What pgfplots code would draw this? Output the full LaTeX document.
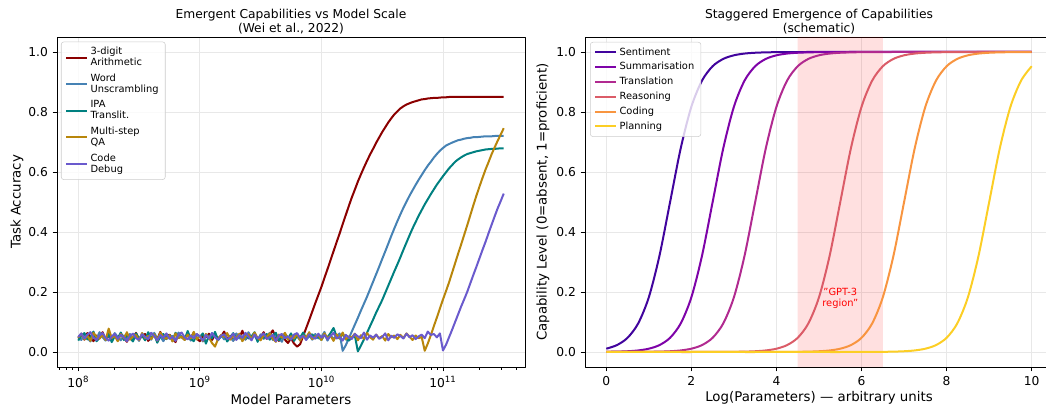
\documentclass[border=0pt]{standalone}
\usepackage{fontspec}
\setmainfont{DejaVu Sans}
\usepackage{pgfplots}
\usepackage{pgfplotstable}
\pgfplotsset{compat=1.18}

\definecolor{arith}{HTML}{8B0000}
\definecolor{word}{HTML}{4682B4}
\definecolor{ipa}{HTML}{008080}
\definecolor{qa}{HTML}{B8860B}
\definecolor{code}{HTML}{6A5ACD}
\definecolor{pA}{HTML}{41049D}
\definecolor{pB}{HTML}{7E03A8}
\definecolor{pC}{HTML}{B12A90}
\definecolor{pD}{HTML}{DB5C68}
\definecolor{pE}{HTML}{F89540}
\definecolor{pF}{HTML}{FCCE25}
\definecolor{gridgray}{RGB}{232,232,232}
\definecolor{legframe}{RGB}{204,204,204}

% log10(params)  arith  word  ipa  qa  code
\pgfplotstableread{
l a w i q c
8.000 0.045 0.052 0.038 0.048 0.050
8.025 0.058 0.040 0.055 0.061 0.062
8.050 0.041 0.061 0.063 0.042 0.045
8.075 0.063 0.047 0.042 0.055 0.058
8.100 0.050 0.035 0.050 0.037 0.066
8.125 0.036 0.058 0.068 0.064 0.048
8.150 0.055 0.044 0.036 0.050 0.040
8.175 0.047 0.066 0.047 0.044 0.055
8.200 0.066 0.049 0.059 0.058 0.063
8.225 0.040 0.038 0.044 0.040 0.047
8.250 0.052 0.057 0.061 0.078 0.038
8.275 0.044 0.043 0.033 0.047 0.052
8.300 0.059 0.063 0.053 0.053 0.060
8.325 0.038 0.050 0.046 0.036 0.044
8.350 0.061 0.039 0.065 0.060 0.057
8.375 0.049 0.055 0.040 0.045 0.049
8.400 0.034 0.046 0.057 0.066 0.036
8.425 0.057 0.060 0.049 0.041 0.054
8.450 0.046 0.042 0.035 0.052 0.061
8.475 0.064 0.053 0.062 0.057 0.046
8.500 0.042 0.037 0.045 0.039 0.041
8.525 0.053 0.062 0.054 0.063 0.059
8.550 0.060 0.048 0.039 0.046 0.050
8.575 0.037 0.056 0.066 0.054 0.043
8.600 0.048 0.041 0.048 0.043 0.064
8.625 0.056 0.064 0.058 0.059 0.053
8.650 0.043 0.045 0.031 0.038 0.039
8.675 0.067 0.051 0.052 0.065 0.056
8.700 0.039 0.036 0.060 0.049 0.047
8.725 0.051 0.059 0.043 0.044 0.062
8.750 0.058 0.047 0.056 0.056 0.044
8.775 0.045 0.054 0.037 0.035 0.051
8.800 0.033 0.040 0.064 0.062 0.037
8.825 0.062 0.065 0.047 0.047 0.058
8.850 0.050 0.049 0.051 0.051 0.065
8.875 0.041 0.043 0.041 0.040 0.049
8.900 0.059 0.058 0.070 0.058 0.042
8.925 0.047 0.038 0.044 0.045 0.055
8.950 0.064 0.061 0.036 0.067 0.046
8.975 0.044 0.046 0.059 0.042 0.060
9.000 0.036 0.052 0.050 0.053 0.052
9.025 0.055 0.035 0.062 0.037 0.038
9.050 0.049 0.057 0.028 0.060 0.057
9.075 0.061 0.044 0.055 0.048 0.045
9.100 0.040 0.063 0.046 0.030 0.063
9.125 0.057 0.050 0.067 0.018 0.050
9.150 0.046 0.039 0.040 0.044 0.041
9.175 0.052 0.056 0.053 0.057 0.054
9.200 0.068 0.042 0.058 0.050 0.059
9.225 0.043 0.060 0.035 0.063 0.043
9.250 0.054 0.048 0.049 0.041 0.048
9.275 0.038 0.037 0.063 0.055 0.061
9.300 0.060 0.062 0.043 0.046 0.040
9.325 0.048 0.045 0.057 0.061 0.056
9.350 0.071 0.053 0.038 0.036 0.047
9.375 0.042 0.041 0.061 0.052 0.064
9.400 0.056 0.066 0.045 0.059 0.051
9.425 0.045 0.047 0.052 0.043 0.039
9.450 0.063 0.055 0.066 0.065 0.058
9.475 0.039 0.038 0.034 0.047 0.045
9.500 0.050 0.059 0.054 0.039 0.053
9.525 0.066 0.044 0.047 0.056 0.062
9.550 0.044 0.051 0.060 0.050 0.044
9.575 0.058 0.064 0.041 0.062 0.049
9.600 0.072 0.040 0.056 0.044 0.057
9.625 0.047 0.057 0.064 0.034 0.036
9.650 0.037 0.046 0.039 0.058 0.055
9.675 0.055 0.034 0.050 0.048 0.060
9.700 0.041 0.061 0.058 0.064 0.046
9.725 0.030 0.049 0.044 0.041 0.052
9.750 0.046 0.043 0.062 0.053 0.041
9.775 0.028 0.058 0.037 0.045 0.058
9.800 0.018 0.052 0.055 0.060 0.063
9.825 0.026 0.039 0.048 0.038 0.047
9.850 0.053 0.063 0.065 0.055 0.054
9.875 0.080 0.047 0.042 0.049 0.040
9.900 0.107 0.055 0.053 0.066 0.059
9.925 0.135 0.041 0.059 0.043 0.050
9.950 0.163 0.060 0.046 0.051 0.044
9.975 0.190 0.045 0.051 0.057 0.061
10.000 0.217 0.050 0.040 0.040 0.048
10.025 0.247 0.067 0.057 0.062 0.056
10.050 0.276 0.038 0.049 0.047 0.042
10.075 0.306 0.056 0.063 0.054 0.053
10.100 0.336 0.044 0.080 0.037 0.064
10.125 0.366 0.052 0.052 0.059 0.045
10.150 0.395 0.062 0.045 0.045 0.051
10.175 0.426 0.004 0.060 0.065 0.038
10.200 0.456 0.022 0.043 0.042 0.057
10.225 0.486 0.045 0.038 0.052 0.049
10.250 0.515 0.068 0.048 0.048 0.043
10.275 0.541 0.091 0.055 0.061 0.060
10.300 0.568 0.114 0.002 0.039 0.052
10.325 0.592 0.138 0.021 0.056 0.046
10.350 0.615 0.161 0.042 0.044 0.065
10.375 0.637 0.184 0.064 0.063 0.041
10.400 0.658 0.209 0.086 0.050 0.055
10.425 0.677 0.234 0.108 0.041 0.048
10.450 0.697 0.259 0.131 0.058 0.058
10.475 0.715 0.284 0.152 0.046 0.044
10.500 0.733 0.310 0.173 0.053 0.050
10.525 0.749 0.335 0.197 0.038 0.062
10.550 0.765 0.361 0.221 0.060 0.039
10.575 0.779 0.387 0.245 0.049 0.054
10.600 0.792 0.412 0.269 0.055 0.047
10.625 0.802 0.436 0.292 0.043 0.059
10.650 0.812 0.459 0.316 0.057 0.053
10.675 0.819 0.481 0.341 0.047 0.045
10.700 0.825 0.501 0.365 0.062 0.061
10.725 0.829 0.521 0.389 0.051 0.049
10.750 0.833 0.539 0.412 0.040 0.056
10.775 0.836 0.557 0.433 0.055 0.043
10.800 0.839 0.574 0.454 0.046 0.052
10.825 0.842 0.590 0.473 0.050 0.058
10.850 0.843 0.606 0.492 0.004 0.046
10.875 0.845 0.621 0.509 0.028 0.068
10.900 0.846 0.634 0.526 0.056 0.057
10.925 0.847 0.648 0.542 0.086 0.060
10.950 0.847 0.660 0.558 0.115 0.049
10.975 0.848 0.671 0.572 0.145 0.062
11.000 0.849 0.680 0.586 0.175 0.005
11.025 0.849 0.688 0.599 0.203 0.024
11.050 0.850 0.693 0.612 0.232 0.049
11.075 0.850 0.698 0.623 0.264 0.074
11.100 0.850 0.702 0.634 0.296 0.100
11.125 0.850 0.706 0.642 0.328 0.126
11.150 0.850 0.708 0.649 0.359 0.152
11.175 0.850 0.711 0.655 0.391 0.176
11.200 0.850 0.713 0.660 0.423 0.201
11.225 0.850 0.714 0.663 0.456 0.229
11.250 0.850 0.716 0.666 0.489 0.257
11.275 0.850 0.716 0.669 0.521 0.284
11.300 0.850 0.717 0.671 0.551 0.312
11.325 0.850 0.718 0.673 0.580 0.340
11.350 0.850 0.719 0.675 0.608 0.367
11.375 0.850 0.719 0.676 0.633 0.396
11.400 0.850 0.719 0.677 0.659 0.424
11.425 0.850 0.720 0.677 0.682 0.452
11.450 0.850 0.720 0.678 0.704 0.479
11.475 0.850 0.720 0.679 0.725 0.503
11.500 0.850 0.720 0.679 0.746 0.528
}\scale

% schematic capability curves
\pgfplotstableread{
x se su tr re co pl
0.00 0.0110 0.0006 0.0000 0.0000 0.0000 0.0000
0.25 0.0230 0.0012 0.0001 0.0000 0.0000 0.0000
0.50 0.0474 0.0025 0.0001 0.0000 0.0000 0.0000
0.75 0.0953 0.0052 0.0003 0.0000 0.0000 0.0000
1.00 0.1824 0.0110 0.0006 0.0000 0.0000 0.0000
1.25 0.3208 0.0230 0.0012 0.0000 0.0000 0.0000
1.50 0.5000 0.0474 0.0025 0.0000 0.0000 0.0000
1.75 0.6792 0.0953 0.0052 0.0000 0.0000 0.0000
2.00 0.8176 0.1824 0.0110 0.0000 0.0000 0.0000
2.25 0.9047 0.3208 0.0230 0.0001 0.0000 0.0000
2.50 0.9526 0.5000 0.0474 0.0001 0.0000 0.0000
2.75 0.9770 0.6792 0.0953 0.0003 0.0000 0.0000
3.00 0.9890 0.8176 0.1824 0.0006 0.0000 0.0000
3.25 0.9948 0.9047 0.3208 0.0012 0.0000 0.0000
3.50 0.9975 0.9526 0.5000 0.0025 0.0000 0.0000
3.75 0.9988 0.9770 0.6792 0.0052 0.0001 0.0000
4.00 0.9994 0.9890 0.8176 0.0110 0.0001 0.0000
4.25 0.9997 0.9948 0.9047 0.0230 0.0003 0.0000
4.50 0.9999 0.9975 0.9526 0.0474 0.0006 0.0000
4.75 1.0000 0.9988 0.9770 0.0953 0.0012 0.0000
5.00 1.0000 0.9994 0.9890 0.1824 0.0025 0.0000
5.25 1.0000 0.9997 0.9948 0.3208 0.0052 0.0000
5.50 1.0000 0.9999 0.9975 0.5000 0.0110 0.0000
5.75 1.0000 1.0000 0.9988 0.6792 0.0230 0.0001
6.00 1.0000 1.0000 0.9994 0.8176 0.0474 0.0001
6.25 1.0000 1.0000 0.9997 0.9047 0.0953 0.0003
6.50 1.0000 1.0000 0.9999 0.9526 0.1824 0.0006
6.75 1.0000 1.0000 1.0000 0.9770 0.3208 0.0012
7.00 1.0000 1.0000 1.0000 0.9890 0.5000 0.0025
7.25 1.0000 1.0000 1.0000 0.9948 0.6792 0.0052
7.50 1.0000 1.0000 1.0000 0.9975 0.8176 0.0110
7.75 1.0000 1.0000 1.0000 0.9988 0.9047 0.0230
8.00 1.0000 1.0000 1.0000 0.9994 0.9526 0.0474
8.25 1.0000 1.0000 1.0000 0.9997 0.9770 0.0953
8.50 1.0000 1.0000 1.0000 0.9999 0.9890 0.1824
8.75 1.0000 1.0000 1.0000 1.0000 0.9948 0.3208
9.00 1.0000 1.0000 1.0000 1.0000 0.9975 0.5000
9.25 1.0000 1.0000 1.0000 1.0000 0.9988 0.6792
9.50 1.0000 1.0000 1.0000 1.0000 0.9994 0.8176
9.75 1.0000 1.0000 1.0000 1.0000 0.9997 0.9047
10.00 1.0000 1.0000 1.0000 1.0000 0.9999 0.9526
}\stagger

\pgfplotsset{
  mpl/.style={
    scale only axis, width=351pt, height=247.5pt,
    axis line style={black, line width=0.6pt},
    tick align=outside, xtick pos=left, ytick pos=left,
    major tick length=3.3pt, minor tick length=1.9pt,
    every tick/.style={black, line width=0.6pt},
    grid=major, major grid style={line width=0.6pt, gridgray},
    ymin=-0.05, ymax=1.05, ytick={0,0.2,0.4,0.6,0.8,1.0},
    yticklabel style={/pgf/number format/fixed, /pgf/number format/fixed zerofill, /pgf/number format/precision=1},
    /pgf/number format/assume math mode=true,
    tick label style={font=\fontsize{9.2}{11}\selectfont},
    label style={font=\fontsize{9.2}{11}\selectfont},
    title style={font=\fontsize{9.2}{10.6}\selectfont, align=center, at={(0.5,1)}, anchor=south, yshift=-7.5pt},
    legend cell align=left,
    legend style={font=\fontsize{7.4}{8.3}\selectfont, draw=legframe, rounded corners=2pt,
      fill=white, fill opacity=0.8, text opacity=1, cells={align=left}},
    legend image code/.code={\draw[#1] (0pt,0pt) -- (15.5pt,0pt);},
    no markers, line join=round,
  },
}

\begin{document}
\begin{tikzpicture}
\begin{axis}[mpl, at={(42.75pt,30pt)}, anchor=south west,
  title={Emergent Capabilities vs Model Scale\\(Wei et al., 2022)},
  xmin=7.825, xmax=11.675,
  xtick={8,9,10,11},
  xticklabels={10\textsuperscript{8},10\textsuperscript{9},10\textsuperscript{10},10\textsuperscript{11}},
  minor xtick={7.845,7.903,7.954,
    8.301,8.477,8.602,8.699,8.778,8.845,8.903,8.954,
    9.301,9.477,9.602,9.699,9.778,9.845,9.903,9.954,
    10.301,10.477,10.602,10.699,10.778,10.845,10.903,10.954,
    11.301,11.477,11.602},
  xlabel={Model Parameters}, ylabel={Task Accuracy},
  every axis x label/.style={at={(axis description cs:0.5,-0.1)}, anchor=center},
  every axis y label/.style={at={(axis description cs:-0.0855,0.5)}, rotate=90, anchor=center},
  legend style={at={(axis description cs:0.0085,0.986)}, anchor=north west, row sep=0.6pt},
]
\addplot[arith, line width=1.5pt] table[x=l, y=a] {\scale};
\addlegendentry{3-digit\\Arithmetic}
\addplot[word, line width=1.5pt] table[x=l, y=w] {\scale};
\addlegendentry{Word\\Unscrambling}
\addplot[ipa, line width=1.5pt] table[x=l, y=i] {\scale};
\addlegendentry{IPA\\Translit.}
\addplot[qa, line width=1.5pt] table[x=l, y=q] {\scale};
\addlegendentry{Multi-step\\QA}
\addplot[code, line width=1.5pt] table[x=l, y=c] {\scale};
\addlegendentry{Code\\Debug}
\end{axis}

\begin{axis}[mpl, at={(438.75pt,30pt)}, anchor=south west,
  title={Staggered Emergence of Capabilities\\(schematic)},
  xmin=-0.5, xmax=10.5, xtick={0,2,4,6,8,10},
  xlabel={Log(Parameters) — arbitrary units},
  ylabel={Capability Level (0=absent, 1=proficient)},
  every axis x label/.style={at={(axis description cs:0.5,-0.092)}, anchor=center},
  every axis y label/.style={at={(axis description cs:-0.0897,0.5)}, rotate=90, anchor=center},
  legend style={at={(axis description cs:0.0107,0.985)}, anchor=north west},
]
\addplot[fill=red, fill opacity=0.12, draw=none, forget plot]
  coordinates {(4.5,-0.05) (6.5,-0.05) (6.5,1.05) (4.5,1.05)} \closedcycle;
\addplot[pA, line width=1.5pt, smooth] table[x=x, y=se] {\stagger};
\addlegendentry{Sentiment}
\addplot[pB, line width=1.5pt, smooth] table[x=x, y=su] {\stagger};
\addlegendentry{Summarisation}
\addplot[pC, line width=1.5pt, smooth] table[x=x, y=tr] {\stagger};
\addlegendentry{Translation}
\addplot[pD, line width=1.5pt, smooth] table[x=x, y=re] {\stagger};
\addlegendentry{Reasoning}
\addplot[pE, line width=1.5pt, smooth] table[x=x, y=co] {\stagger};
\addlegendentry{Coding}
\addplot[pF, line width=1.5pt, smooth] table[x=x, y=pl] {\stagger};
\addlegendentry{Planning}
\node[red, align=center, font=\fontsize{7.4}{8.6}\selectfont] at (axis cs:5.5,0.178) {"GPT-3\\region"};
\end{axis}
\pgfresetboundingbox
\path[use as bounding box] (0,0) rectangle (784.5pt,305.25pt);
\end{tikzpicture}
\end{document}
